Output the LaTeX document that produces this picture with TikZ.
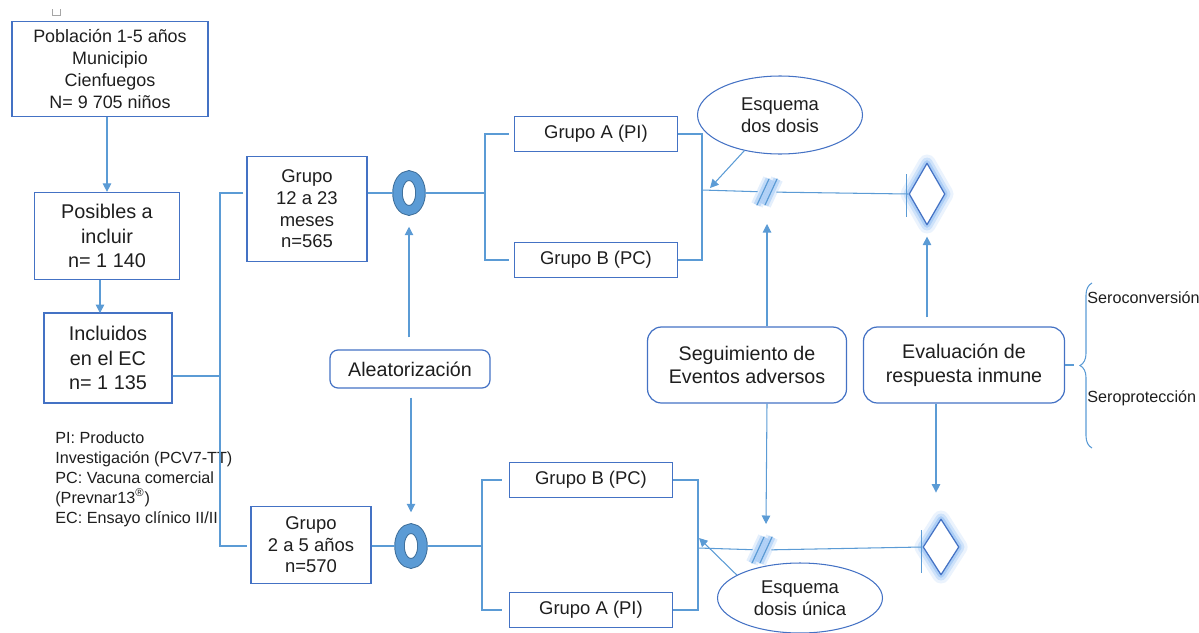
\documentclass[tikz,border=0pt]{standalone}
\usepackage{fontspec}
\setmainfont{Liberation Sans}
\usetikzlibrary{calc,shapes.geometric,arrows.meta,decorations.pathreplacing}
\definecolor{boxblue}{RGB}{68,114,196}
\definecolor{lineblue}{RGB}{91,155,213}
\definecolor{ringblue}{RGB}{65,113,156}
\definecolor{glowblue}{RGB}{120,175,240}
\definecolor{txt}{RGB}{30,30,30}
\newcommand{\slashmark}[1]{%
  \foreach \dx in {-4,4}
    \draw[lineblue,line width=0.7pt,line cap=round,
      preaction={draw=glowblue,line width=7pt,opacity=0.2},
      preaction={draw=glowblue,line width=4pt,opacity=0.35}]
      ($(#1)+(\dx-6,13)$) -- ++(12,-26);}
\tikzset{
  /tikz/.cd,
  flowbox/.style={draw=boxblue,line width=0.7pt,text=txt,align=center,inner sep=2pt}
}

\begin{document}
\begin{tikzpicture}[x=0.02cm,y=-0.02cm,
    conn/.style={draw=lineblue,line width=0.6pt},
    arr/.style={conn,-{Triangle[length=0.17cm,width=0.17cm]}},
    groupbox/.style={flowbox,minimum width=3.26cm,minimum height=0.7cm,font=\fontsize{10.5}{12.5}\selectfont},
    roundbox/.style={flowbox,rounded corners=0.28cm,font=\fontsize{11.2}{13.5}\selectfont},
    bubble/.style={ellipse,draw=boxblue,line width=0.6pt,text=txt,align=center,inner sep=0pt,
      minimum width=3.3cm,font=\fontsize{10.5}{12.8}\selectfont},
    ring/.style={ellipse,draw=lineblue,line width=0.17cm,minimum width=0.46cm,minimum height=0.7cm,
      inner sep=0pt,preaction={draw=ringblue,line width=0.21cm}},
    gem/.style={diamond,draw=boxblue,line width=0.7pt,fill=white,inner sep=0pt,minimum width=0.72cm,
      line join=round,
      preaction={draw=glowblue,line width=10pt,opacity=0.15,line join=round},
      preaction={draw=glowblue,line width=6.5pt,opacity=0.25,line join=round},
      preaction={draw=glowblue,line width=3.5pt,opacity=0.4,line join=round}},
    slashpt/.style={inner sep=0pt,minimum width=0.36cm,minimum height=0.5cm}]
  \useasboundingbox (0,0) rectangle (1199,632);
  \draw[gray!70,line width=0.4pt] (52,9) -- (52,15) -- (60,15) -- (60,9);

  \node[flowbox,minimum width=3.92cm,minimum height=1.9cm,font=\fontsize{10.2}{12.4}\selectfont] (pob) at (110,69)
    {Población 1-5 años\\Municipio\\Cienfuegos\\N= 9 705 niños};
  \node[flowbox,minimum width=2.9cm,minimum height=1.74cm,font=\fontsize{11.3}{14}\selectfont] (pos) at (107,236)
    {Posibles a\\incluir\\n= 1 140};
  \node[flowbox,minimum width=2.56cm,minimum height=1.8cm,font=\fontsize{11.3}{14}\selectfont] (incl) at (108,358)
    {Incluidos\\en el EC\\n= 1 135};
  \node[anchor=north west,inner sep=0pt,align=left,text=txt,font=\fontsize{9.2}{11.4}\selectfont] (leg) at (55,431)
    {PI: Producto\\Investigación (PCV7-TT)\\PC: Vacuna comercial\\(Prevnar13\textsuperscript{®})\\EC: Ensayo clínico II/III};

  \node[flowbox,minimum width=2.4cm,minimum height=2.1cm,font=\fontsize{10.5}{12.3}\selectfont] (g1) at (307,209)
    {Grupo\\12 a 23\\meses\\n=565};
  \node[flowbox,minimum width=2.4cm,minimum height=1.54cm,font=\fontsize{10.5}{12.3}\selectfont] (g2) at (311,545)
    {Grupo\\2 a 5 años\\n=570};
  \node[ring] (o1) at (409,193) {};
  \node[ring] (o2) at (411,546) {};
  \node[roundbox,rounded corners=0.16cm,minimum width=3.2cm,minimum height=0.76cm] (al) at (410,369) {Aleatorización};

  \node[groupbox] (gA1) at (596,134) {Grupo A (PI)};
  \node[groupbox] (gB1) at (596,260) {Grupo B (PC)};
  \node[groupbox] (gB2) at (591,480) {Grupo B (PC)};
  \node[groupbox] (gA2) at (591,610) {Grupo A (PI)};

  \node[bubble,minimum height=1.56cm] (e1) at (780,115) {Esquema\\dos dosis};
  \node[bubble,minimum height=1.4cm] (e2) at (800,598) {Esquema\\dosis única};
  \node[slashpt] (sl1) at (767,192) {};
  \node[slashpt] (sl2) at (762,550) {};
  \node[gem,minimum height=1.24cm] (d1) at (927,194) {};
  \node[gem,minimum height=1.12cm] (d2) at (941,547) {};

  \node[roundbox,minimum width=3.98cm,minimum height=1.52cm] (sg) at (747,365) {Seguimiento de\\Eventos adversos};
  \node[roundbox,minimum width=4.02cm,minimum height=1.52cm] (ev) at (964,365) {Evaluación de\\respuesta inmune};
  \node[anchor=west,inner sep=0pt,text=txt,font=\fontsize{9.2}{11}\selectfont] (sc) at (1087,298) {Seroconversión};
  \node[anchor=west,inner sep=0pt,text=txt,font=\fontsize{9.2}{11}\selectfont] (sp) at (1087,398) {Seroprotección};

  \coordinate (spl) at (220,376);
  \coordinate (fk1) at (485,193);
  \coordinate (fk2) at (482,546);
  \coordinate (mg1) at (702,190);
  \coordinate (mg2) at (698,548);
  \coordinate (brm) at (1074,365);

  \draw[arr] (pob.south -| pos) -- (pos.north);
  \draw[arr] ($(pos.south)+(-7,0)$) -- ++(0,33);
  \draw[conn] (incl.east |- spl) -- (spl);
  \draw[conn] ($(g1.west |- o1)+(-3,0)$) -- (spl |- o1) -- (spl |- o2) -- ($(g2.west |- o2)+(-3,0)$);

  \draw[conn] (g1.east |- o1) -- (o1.west);
  \draw[conn] (g2.east |- o2) -- (o2.west);
  \draw[conn] (o1.east) -- (fk1);
  \draw[conn] (o2.east) -- (fk2);
  \draw[conn] ($(gA1.west)+(-5,0)$) -- (gA1.west -| fk1) -- (gB1.west -| fk1) -- ($(gB1.west)+(-5,0)$);
  \draw[conn] ($(gB2.west)+(-7,0)$) -- (gB2.west -| fk2) -- (gA2.west -| fk2) -- ($(gA2.west)+(-7,0)$);
  \draw[conn] (gA1.east) -- (gA1.east -| mg1) -- (gB1.east -| mg1) -- (gB1.east);
  \draw[conn] (gB2.east) -- (gB2.east -| mg2) -- (gA2.east -| mg2) -- (gA2.east);

  \draw[arr] ($(al.north -| o1)+(0,-12)$) -- ($(o1.south)+(0,12)$);
  \draw[arr] ($(al.south -| o2)+(0,9)$) -- ($(o2.north)+(0,-12)$);

  \draw[conn] (mg1) -- (sl1);
  \draw[conn] (mg2) -- (sl2);
  \slashmark{sl1}
  \slashmark{sl2}
  \draw[conn] (sl1) -- (d1.west);
  \draw[conn] (sl2) -- (d2.west);
  \draw[conn] ($(d1.west)+(-2,-20)$) -- ++(0,43);
  \draw[conn] ($(d2.west)+(-1,-17)$) -- ++(0,43);

  \draw[arr] (e1.225) -- ($(mg1)+(8,-2)$);
  \draw[arr] (e2.160) -- ($(mg2)+(1,-10)$);

  \draw[arr] (sg.north -| sl1) -- ($(sl1.center)+(0,32)$);
  \draw[arr] (sg.south -| sl1) -- ($(sl2.center)+(4,-26)$);
  \draw[arr] ($(ev.north -| d1)+(0,-9)$) -- ($(d1.south)+(0,11)$);
  \draw[arr] ($(ev.south)+(-28,0)$) -- ++(0,89);

  \draw[conn] (ev.east) -- (brm);
  \draw[conn,decorate,decoration={brace,amplitude=0.24cm}] (1092,448) -- (1092,283);
\end{tikzpicture}
\end{document}
